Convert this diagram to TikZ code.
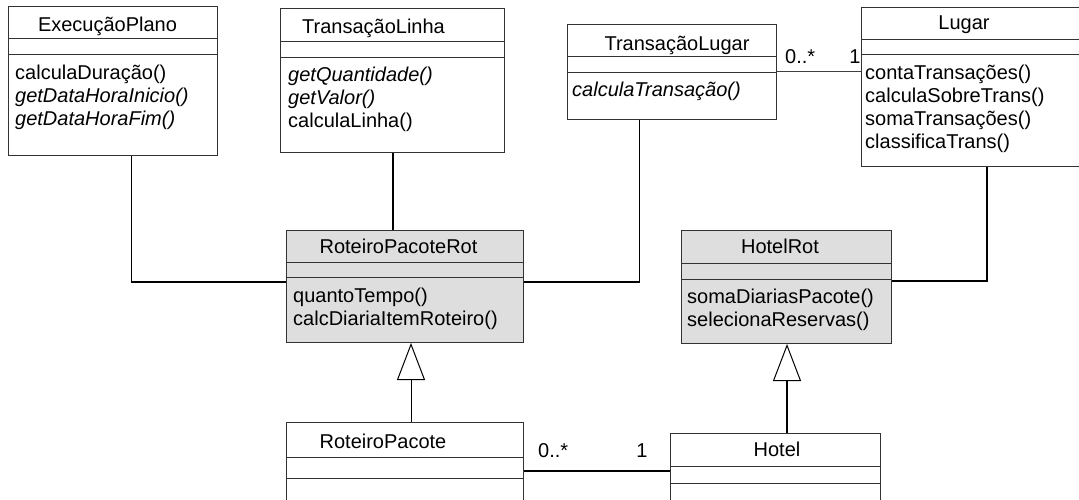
\documentclass[tikz,border=0pt]{standalone}
\usepackage{fontspec}
\setmainfont{Liberation Sans}
\usetikzlibrary{arrows.meta}

% one UML class frame: name, style, left, top, right, bottom (units of the picture)
\newcommand\classframe[6]{%
  \node[#2, anchor=north west, minimum width={#5-#3}, minimum height={#6-#4}] (#1) at (#3,#4) {};}
% compartment divider across a class frame at height #2
\newcommand\divider[2]{%
  \draw[frame line] (#1.west |- 0,#2) -- (#1.east |- 0,#2);}

\begin{document}
\begin{tikzpicture}[x=1pt, y=-1pt,
  txt/.style={inner sep=0pt, font=\fontsize{20}{23}\selectfont, text=black},
  ctitle/.style={txt, anchor=base},
  meth/.style={txt, anchor=base west},
  mult/.style={txt},
  frame line/.style={draw=black!80, line width=1pt},
  cls/.style={frame line, fill=white, inner sep=0pt, rectangle},
  clsgray/.style={cls, fill=black!13},
  thinlink/.style={draw=black, line width=1pt},
  thicklink/.style={draw=black, line width=2pt},
  gen/.style={-{Triangle[open, length=37pt, width=28pt, line width=1pt, sep=0pt]}},
]
\useasboundingbox (0,0) rectangle (1079,499);
\clip (0,0) rectangle (1079,499);

% ---------- ExecuçãoPlano ----------
\classframe{ep}{cls}{8}{6}{217}{155}
\divider{ep}{38}
\divider{ep}{54}
\node[ctitle] (ep-t) at (107.5,31.5) {ExecuçãoPlano};
\node[meth] (ep-m1) at (15,79) {calculaDuração()};
\node[meth] (ep-m2) at (15,102) {\itshape getDataHoraInicio()};
\node[meth] (ep-m3) at (15,125) {\itshape getDataHoraFim()};

% ---------- TransaçãoLinha ----------
\classframe{tl}{cls}{280}{8}{504}{152}
\divider{tl}{41}
\divider{tl}{57}
\node[ctitle] (tl-t) at (373.5,33.5) {TransaçãoLinha};
\node[meth] (tl-m1) at (288,81) {\itshape getQuantidade()};
\node[meth] (tl-m2) at (288,104) {\itshape getValor()};
\node[meth] (tl-m3) at (288,127) {calculaLinha()};

% ---------- TransaçãoLugar ----------
\classframe{tlu}{cls}{567}{24}{776}{119}
\divider{tlu}{56}
\divider{tlu}{72}
\node[ctitle] (tlu-t) at (677,50) {TransaçãoLugar};
\node[meth] (tlu-m1) at (572,96) {\itshape calculaTransação()};

% ---------- Lugar ----------
\classframe{lu}{cls}{861}{7}{1095}{166}
\divider{lu}{39}
\divider{lu}{54}
\node[ctitle] (lu-t) at (964,29) {Lugar};
\node[meth] (lu-m1) at (865,79) {contaTransações()};
\node[meth] (lu-m2) at (865,102) {calculaSobreTrans()};
\node[meth] (lu-m3) at (865,125) {somaTransações()};
\node[meth] (lu-m4) at (865,148) {classificaTrans()};

% ---------- RoteiroPacoteRot ----------
\classframe{rpr}{clsgray}{286}{230}{523}{342}
\divider{rpr}{262}
\divider{rpr}{277}
\node[ctitle] (rpr-t) at (398.5,253) {RoteiroPacoteRot};
\node[meth] (rpr-m1) at (293,302) {quantoTempo()};
\node[meth] (rpr-m2) at (293,325) {calcDiariaItemRoteiro()};

% ---------- HotelRot ----------
\classframe{hr}{clsgray}{681}{230}{891}{343}
\divider{hr}{263}
\divider{hr}{279}
\node[ctitle] (hr-t) at (780,253) {HotelRot};
\node[meth] (hr-m1) at (687,303) {somaDiariasPacote()};
\node[meth] (hr-m2) at (687,326) {selecionaReservas()};

% ---------- RoteiroPacote ----------
\classframe{rp}{cls}{286}{422}{523}{530}
\divider{rp}{457}
\divider{rp}{478}
\node[ctitle] (rp-t) at (383,448) {RoteiroPacote};

% ---------- Hotel ----------
\classframe{ho}{cls}{670}{433}{880}{530}
\divider{ho}{466}
\divider{ho}{483}
\node[ctitle] (ho-t) at (777,456) {Hotel};

% ---------- connector bends and rails ----------
\coordinate (c1) at (131,282);
\coordinate (c2) at (639,282);
\coordinate (c3) at (987,281);
\coordinate (a1) at (820,71);
\coordinate (a2) at (600,471);
\coordinate (g1) at (411,400);
\coordinate (g2) at (787,400);

% ExecuçãoPlano -- RoteiroPacoteRot
\draw[thinlink] (ep.south -| c1) -- ([yshift=-1pt]c1);
\draw[thicklink] ([xshift=-0.5pt]c1) -- (rpr.west |- c1);
% TransaçãoLinha -- RoteiroPacoteRot
\draw[thicklink] (tl.south) -- (tl.south |- rpr.north);
% TransaçãoLugar -- RoteiroPacoteRot
\draw[thinlink] (tlu.south -| c2) -- (c2);
\draw[thicklink] ([xshift=0.5pt]c2) -- (rpr.east |- c2);
% Lugar -- HotelRot
\draw[thicklink] (lu.south -| c3) -- (c3);
\draw[draw=black, line width=1.5pt] ([xshift=1pt]c3) -- (hr.east |- c3);

% TransaçãoLugar -- Lugar association
\draw[thinlink, draw=black!75] (tlu.east |- a1) -- (lu.west |- a1);
\node[mult, anchor=base west] (mu1) at (785,63) {0..*};
\node[mult, anchor=base] (mu2) at (855,63) {1};

% RoteiroPacote -- Hotel association
\draw[thicklink] (rp.east |- a2) -- (ho.west |- a2);
\node[mult, anchor=base west] (mu3) at (538,457) {0..*};
\node[mult, anchor=base] (mu4) at (642,457) {1};

% generalizations
\draw[thinlink, gen] (rp.north -| g1) -- (rpr.south -| g1);
\draw[thicklink, gen] (ho.north -| g2) -- (hr.south -| g2);
\end{tikzpicture}
\end{document}
